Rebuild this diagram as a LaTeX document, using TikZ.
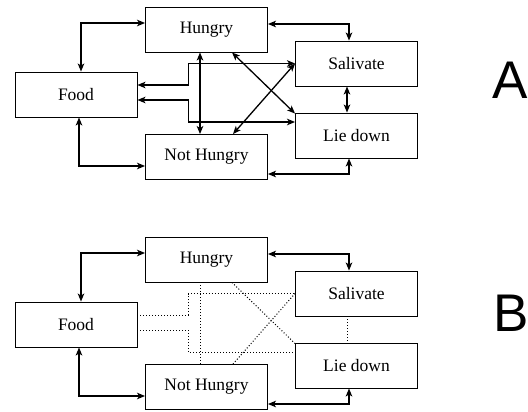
\documentclass[tikz,border=0pt]{standalone}
\usepackage{fontspec}
\setmainfont{Liberation Serif}
\newfontfamily\labelfont{Liberation Sans}
\usetikzlibrary{arrows.meta,calc}
\begin{document}
\begin{tikzpicture}[x=1pt,y=1pt,
  box/.style={draw, line width=0.9pt, minimum width=122pt, minimum height=45pt, inner sep=0pt,
    font=\fontsize{17.5}{20}\selectfont},
  dbl/.style={line width=1.3pt, {Stealth[length=8pt,width=6.5pt,inset=2pt]}-{Stealth[length=8pt,width=6.5pt,inset=2pt]}},
  dots/.style={line width=1pt, dotted},
  biglabel/.style={font=\labelfont\fontsize{53}{60}\selectfont, inner sep=0pt}]
\useasboundingbox (0,0) rectangle (528,-412);
% ---------- A ----------
\node[box] (hungry) at (206.5,-29.5) {Hungry};
\node[box] (food) at (76,-94.5) {Food};
\node[box] (nothungry) at (206.5,-157) {Not Hungry};
\node[box] (salivate) at (356.5,-63.5) {Salivate};
\node[box] (liedown) at (356.5,-135.5) {Lie down};
\node[biglabel] (labA) at (510,-80) {A};
\draw[dbl] ([xshift=5pt]food.north) |- ([yshift=6.5pt]hungry.west);
\draw[dbl] ([xshift=3pt]food.south) |- ([yshift=-9pt]nothungry.west);
\draw[dbl] ([yshift=5.5pt]hungry.east) -| ([xshift=-7.5pt]salivate.north);
\draw[dbl] ([xshift=-9.5pt]salivate.south) -- ([xshift=-9.5pt]liedown.north);
\draw[dbl] ([xshift=-7.5pt]liedown.south) |- ([yshift=-17pt]nothungry.east);
\draw[dbl] ([xshift=-6.5pt]hungry.south) -- ([xshift=-6.5pt]nothungry.north);
\draw[dbl] ([yshift=9.5pt]food.east) -- ++(51,0) |- (salivate.west);
\draw[dbl] ([yshift=-5.5pt]food.east) -- ++(51,0) |- ([yshift=13.5pt]liedown.west);
\draw[dbl] ([xshift=25.5pt]hungry.south) -- ([yshift=-1pt]liedown.north west);
\draw[dbl] ([xshift=26.5pt]nothungry.north) -- (salivate.west);
% ---------- B ----------
\node[box] (hungryB) at (206.5,-259.5) {Hungry};
\node[box] (foodB) at (76,-324.5) {Food};
\node[box] (nothungryB) at (206.5,-387) {Not Hungry};
\node[box] (salivateB) at (356.5,-293.5) {Salivate};
\node[box] (liedownB) at (356.5,-365.5) {Lie down};
\node[biglabel] (labB) at (511,-313) {B};
\draw[dbl] ([xshift=5pt]foodB.north) |- ([yshift=6.5pt]hungryB.west);
\draw[dbl] ([xshift=3pt]foodB.south) |- ([yshift=-9pt]nothungryB.west);
\draw[dbl] ([yshift=5.5pt]hungryB.east) -| ([xshift=-7.5pt]salivateB.north);
\draw[dots] ([xshift=-9.5pt]salivateB.south) -- ([xshift=-9.5pt]liedownB.north);
\draw[dbl] ([xshift=-7.5pt]liedownB.south) |- ([yshift=-17pt]nothungryB.east);
\draw[dots] ([xshift=-6.5pt]hungryB.south) -- ([xshift=-6.5pt]nothungryB.north);
\draw[dots] ([yshift=9.5pt]foodB.east) -- ++(51,0) |- (salivateB.west);
\draw[dots] ([yshift=-5.5pt]foodB.east) -- ++(51,0) |- ([yshift=13.5pt]liedownB.west);
\draw[dots] ([xshift=25.5pt]hungryB.south) -- ([yshift=-1pt]liedownB.north west);
\draw[dots] ([xshift=26.5pt]nothungryB.north) -- (salivateB.west);
\end{tikzpicture}
\end{document}
